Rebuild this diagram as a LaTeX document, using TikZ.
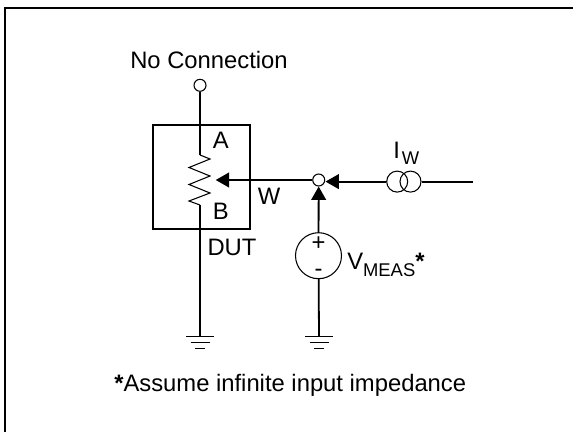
\documentclass[tikz,border=0pt]{standalone}
\usepackage{fontspec}
\setmainfont{Liberation Sans}
\usetikzlibrary{arrows.meta}
\newcommand{\lblfont}{\fontsize{17.85}{20}\selectfont}
\newcommand{\subfont}{\fontsize{13.8}{16}\selectfont}
\tikzset{
  wire/.style={black, line width=1.35pt},
  frameline/.style={black, line width=1.5pt},
  thinline/.style={black, line width=0.8pt},
  terminal/.style={circle, draw=black, fill=white, line width=0.8pt, inner sep=0pt},
  arrowwire/.style={wire, -{Triangle[length=10pt,width=11pt]}},
  lbl/.style={inner sep=0pt, font=\lblfont},
}

\begin{document}
\begin{tikzpicture}[x=0.75pt,y=-0.75pt]
\useasboundingbox (0,0) rectangle (573,432);

% frame
{
\draw[frameline] (5,432)--(5,7.5)--(573,7.5);
}

% device
{
\draw[wire] (153,124.7) rectangle (250,229);
\coordinate (pottop) at (200,155);
\coordinate (potbot) at (200,205);
\coordinate (wiper) at (215.7,180);
\node[terminal, minimum size=12*0.75pt] (nc) at (200,85.3) {};
\draw[wire] (nc) -- (pottop);
\draw[thinline] (pottop)--(210,159)--(189,167.5)--(210,176)--(189,184.5)--(210,193)--(189,201)--(potbot);
}

% junction and sources
{
\node[terminal, minimum size=12*0.75pt] (junction) at (318.7,180) {};
\coordinate (jright) at (325.5,181.6);
\node[terminal, minimum size=21*0.75pt] (isrcr) at (410.5,181.6) {};
\node[terminal, fill=none, minimum size=21*0.75pt] (isrcl) at (397.2,181.6) {};
\coordinate (iend) at (472.7,181.6);
\node[terminal, minimum size=46*0.75pt] (vsrc) at (318.5,255.7) {};

\draw[arrowwire] (junction) -- (wiper);
\draw[arrowwire] (isrcl) -- (jright);
\draw[wire] (isrcr) -- (iend);
\draw[arrowwire] (vsrc) -- (junction);
}

% ground
{
\coordinate (gnda) at (200,336.5);
\coordinate (gndb) at (319,336.5);
\draw[wire] (potbot) -- (gnda);
\draw[wire] (vsrc) -- (gndb);
\foreach \g in {gnda,gndb}
{
\draw[wire] (\g)++(-14,0)--++(28,0);
\draw[wire] (\g)++(-9.5,6)--++(19,0);
\draw[wire] (\g)++(-5,12)--++(10,0);
}
}

% labellings
{
\node[lbl] (nclabel) at (209,59.5) {No Connection};
\node[lbl] (alabel) at (220.7,140) {A};
\node[lbl] (blabel) at (220.7,211) {B};
\node[lbl] (wlabel) at (269,196) {W};
\node[lbl] (dutlabel) at (232,247) {DUT};
\node[lbl, anchor=base west] (ilabel) at (393,158.3) {I\kern1.5pt\raisebox{-4.3pt}{\subfont W}};
\node[lbl] (plus) at (318.5,244) {+};
\node[lbl] (minus) at (318.5,272.7) {-};
\node[lbl, anchor=base west] (vlabel) at (347,269.3) {V\raisebox{-5.25pt}{\subfont MEAS}\textbf{*}};
\node[lbl, anchor=base west] (note) at (114,391.7) {\textbf{*}Assume infinite input impedance};
}
\end{tikzpicture}
\end{document}
